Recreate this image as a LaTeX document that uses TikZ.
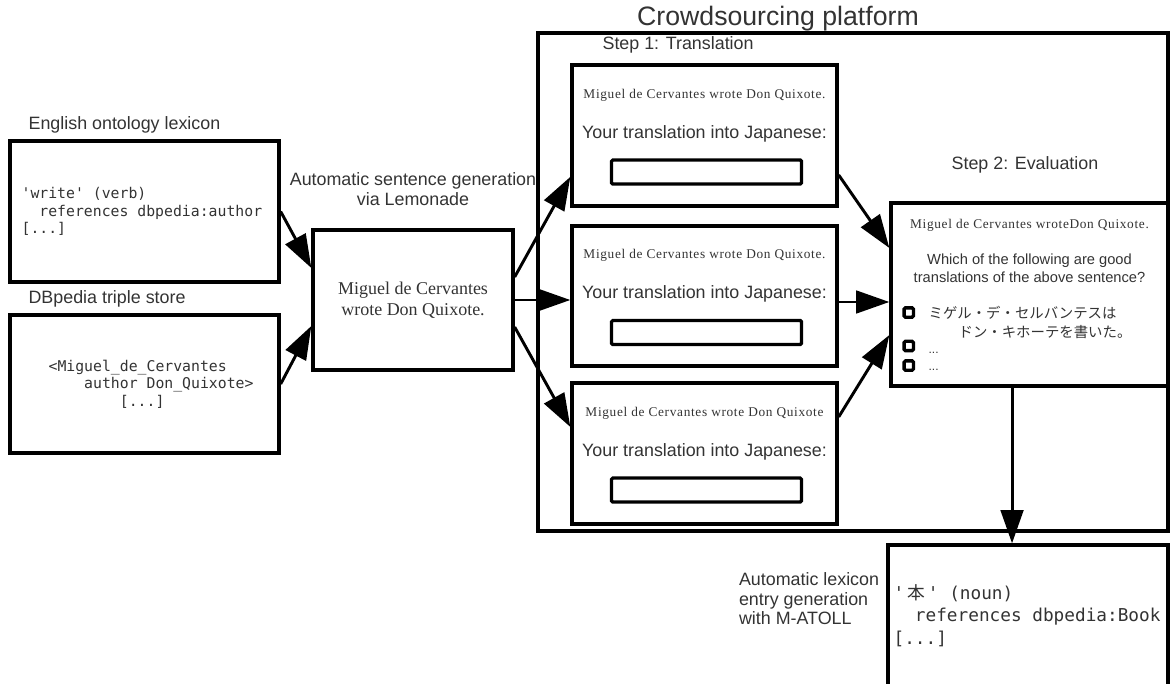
\documentclass[tikz,border=0pt]{standalone}
\usepackage{fontspec}
\setmainfont{Liberation Serif}
\setsansfont{Liberation Sans}
\setmonofont{DejaVu Sans Mono}
\newfontfamily\jpfont{Noto Sans CJK JP}
\usetikzlibrary{arrows.meta,calc,positioning}

\begin{document}
\begin{tikzpicture}
    [
    x                       = 0.75pt,
    y                       = -0.75pt,
    every node/.style       = {font=\sffamily\fontsize{13.4}{14.6}\selectfont, text=black!80, inner sep=0pt},
    box/.style 2 args       = {draw, line width=2.5pt, minimum width=#1, minimum height=#2},
    field/.style            = {draw, line width=2.5pt, rounded corners=1pt, minimum width=142.5pt, minimum height=18pt},
    checkbox/.style         = {draw, line width=2.5pt, rounded corners=1pt, minimum size=7pt},
    sentence/.style         = {font=\rmfamily\fontsize{10}{12}\selectfont\addfontfeature{LetterSpace=5}},
    listing/.style          = {font=\ttfamily\fontsize{11.1}{13.2}\selectfont, align=left},
    arr/.style              = {line width=2.2pt, -{Triangle[length=25pt, width=17pt]}}
    ]
    \useasboundingbox (0,0) rectangle (1170,684);

    % crowdsourcing frame
    \node [box={472.5pt}{373.5pt}] (plat) at (853,282) {};
    \node [font=\sffamily\fontsize{20}{22}\selectfont, anchor=base] (title)
        at ([xshift=-56.25pt, yshift=4pt]plat.north) {Crowdsourcing platform};

    % lexicon and triple store
    \node [box={201.75pt}{105.75pt}] (lex) at (144.5,211.5) {};
    \node [box={201.75pt}{103.5pt}] (dbp) at (144.5,384) {};
    \node [above right=4.5pt and 15pt of lex.north west] (lexlabel) {English ontology lexicon};
    \node [above right=4.5pt and 15pt of dbp.north west] (dbplabel) {DBpedia triple store};
    \node [listing, right=9.75pt of lex.west] (lexentry)
        {'write' (verb)\\\phantom{xx}references dbpedia:author\\{[...]}};
    \node [listing, right=30pt of dbp.west] (triple)
        {<Miguel\_de\_Cervantes\\\phantom{xxxx}author Don\_Quixote>\\\phantom{xxxxxxxx}[...]};

    % sentence generation
    \node [box={150pt}{105pt}, align=center, font=\rmfamily\fontsize{13.5}{15.75}\selectfont] (gen)
        at (413,300) {Miguel de Cervantes\\wrote Don Quixote.};
    \node [above=17pt of gen, align=center] (genlabel) {Automatic sentence generation\\via Lemonade};

    % step 1
    \node [anchor=base west] (step1) at ([xshift=49.5pt, yshift=-13.5pt]plat.north west) {Step 1: Translation};
    \node [box={198.75pt}{105.75pt}] (tr1) at (704.5,135.5) {};
    \node [box={198.75pt}{105pt}] (tr2) at (704.5,296) {};
    \node [box={198.75pt}{105.75pt}] (tr3) at (704.5,453.5) {};
    \node [sentence] (src1) at ([yshift=30.5pt]tr1.center) {Miguel de Cervantes wrote Don Quixote.};
    \node (ask1) at ([yshift=1.5pt]tr1.center) {Your translation into Japanese:};
    \node [field] (in1) at ([xshift=1.5pt, yshift=-27.4pt]tr1.center) {};
    \node [sentence] (src2) at ([yshift=30.5pt]tr2.center) {Miguel de Cervantes wrote Don Quixote.};
    \node (ask2) at ([yshift=1.5pt]tr2.center) {Your translation into Japanese:};
    \node [field] (in2) at ([xshift=1.5pt, yshift=-27.4pt]tr2.center) {};
    \node [sentence] (src3) at ([yshift=30.5pt]tr3.center) {Miguel de Cervantes wrote Don Quixote};
    \node (ask3) at ([yshift=1.5pt]tr3.center) {Your translation into Japanese:};
    \node [field] (in3) at ([xshift=1.5pt, yshift=-27.4pt]tr3.center) {};

    % step 2
    \node [box={207.75pt}{137.25pt}] (eval) at (1029.5,294.5) {};
    \node [anchor=base] (step2) at ([xshift=-3.4pt, yshift=24pt]eval.north) {Step 2: Evaluation};
    \node [sentence] (src4) at ([yshift=52pt]eval.center) {Miguel de Cervantes wroteDon Quixote.};
    \node [align=center, font=\sffamily\fontsize{11}{13.5}\selectfont] (question)
        at ([yshift=20pt]eval.center) {Which of the following are good\\translations of the above sentence?};
    \node [checkbox] (c1) at ([xshift=14.6pt, yshift=-13.5pt]eval.west) {};
    \node [checkbox] (c2) at ([xshift=14.6pt, yshift=-38.6pt]eval.west) {};
    \node [checkbox] (c3) at ([xshift=14.6pt, yshift=-53.3pt]eval.west) {};
    \node [anchor=west, align=left, font=\jpfont\fontsize{10.8}{14.25}\selectfont] (answer)
        at ([xshift=29.25pt, yshift=-21pt]eval.west) {ミゲル・デ・セルバンテスは\\\hspace*{22.5pt}ドン・キホーテを書いた。};
    \node [anchor=west, font=\sffamily\fontsize{9}{10}\selectfont] (more1) at ([xshift=29.25pt, yshift=-43.9pt]eval.west) {...};
    \node [anchor=west, font=\sffamily\fontsize{9}{10}\selectfont] (more2) at ([xshift=29.25pt, yshift=-56.6pt]eval.west) {...};

    % generated entry
    \node [box={210pt}{116.25pt}] (out) at (1028,622.5) {};
    \node [listing, font=\ttfamily\fontsize{13.3}{17}\selectfont, right=5.25pt of out.west, yshift=5.25pt] (outentry)
        {'\,{\jpfont 本}\,' (noun)\\\phantom{xx}references dbpedia:Book\\{[...]}};
    \node [left=5.25pt of out.west, yshift=17.6pt, align=left] (outlabel)
        {Automatic lexicon\\entry generation\\with M-ATOLL};

    \draw [arr] (lex.east) -- ([yshift=24pt]gen.west);
    \draw [arr] (dbp.east) -- ([yshift=-19.5pt]gen.west);
    \draw [arr] ([yshift=17.25pt]gen.east) -- ([yshift=-31pt]tr1.west);
    \draw [arr] (gen.east) -- (gen.east -| tr2.west);
    \draw [arr] ([yshift=-20.25pt]gen.east) -- ([yshift=19.9pt]tr3.west);
    \draw [arr] ([yshift=-29.6pt]tr1.east) -- ([yshift=34.9pt]eval.west);
    \draw [arr] ([yshift=-4.5pt]tr2.east) -- ([yshift=-4.5pt]tr2.east -| eval.west);
    \draw [arr] ([yshift=27.4pt]tr3.east) -- ([yshift=-30.4pt]eval.west);
    \draw [arr] ([xshift=-13.1pt]eval.south) -- ([xshift=-13.1pt]eval.south |- out.north);
\end{tikzpicture}
\end{document}
